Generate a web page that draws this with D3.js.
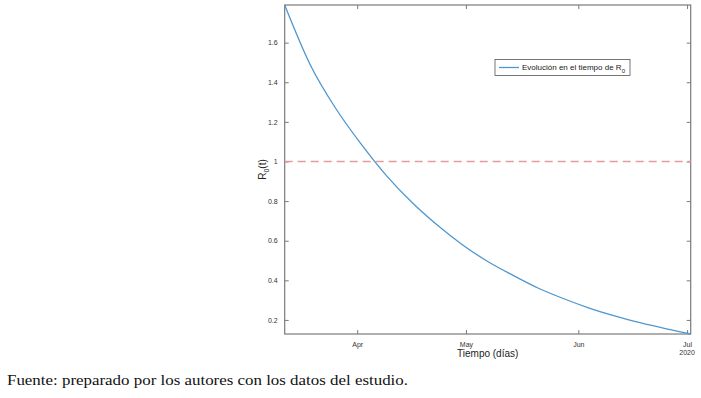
<!DOCTYPE html>
<html>
<head>
<meta charset="utf-8">
<script src="https://cdn.jsdelivr.net/npm/d3@7"></script>
<style>
  body { margin: 0; background: #fff; }
  svg { display: block; }
  .tick text { font-family: 'Liberation Sans', Arial, sans-serif; font-size: 7px; fill: #333; }
</style>
</head>
<body>
<svg id="chart"></svg>
<script>
let svgWidth = 701
let svgHeight = 398

// values
let dates = ['2020-03-12', '2020-03-19', '2020-03-26', '2020-04-02', '2020-04-09', '2020-04-16',
  '2020-04-23', '2020-04-30', '2020-05-07', '2020-05-14', '2020-05-21', '2020-05-28',
  '2020-06-04', '2020-06-11', '2020-06-18', '2020-06-25', '2020-07-02']
let r0 = [1.79, 1.49, 1.27, 1.09, 0.93, 0.795, 0.68, 0.58, 0.495, 0.425, 0.36, 0.307,
  0.26, 0.22, 0.186, 0.156, 0.129]
let threshold = 1
let yTicks = [0.2, 0.4, 0.6, 0.8, 1, 1.2, 1.4, 1.6]
let xTickDates = ['2020-04-01', '2020-05-01', '2020-06-01', '2020-07-01']
let xTickNames = ['Apr', 'May', 'Jun', 'Jul']

let parse = d3.timeParse('%Y-%m-%d')
let data = dates.map(function(d, i) { return { t: parse(d), v: r0[i] } })

let plotLeft = 284.7, plotRight = 690.7, plotTop = 5, plotBottom = 334

let svg = d3.select('#chart').attr('width', svgWidth).attr('height', svgHeight)

let xScale = d3.scaleTime().domain(d3.extent(data, d => d.t)).range([plotLeft, plotRight])
let yScale = d3.scaleLinear().domain([d3.min(r0), d3.max(r0)]).range([plotBottom, plotTop])

let xTicks = xTickDates.map(parse)
let axisColor = '#7a7a7a'

// axes, ticks pointing inward like matlab
let yAxis = d3.axisLeft(yScale).tickValues(yTicks).tickSize(-4).tickPadding(7)
  .tickFormat(d3.format('~g'))
let gy = svg.append('g').attr('transform', 'translate(' + plotLeft + ',0)').call(yAxis)
let yRight = d3.axisRight(yScale).tickValues(yTicks).tickSize(-4).tickFormat('')
let gyr = svg.append('g').attr('transform', 'translate(' + plotRight + ',0)').call(yRight)

let xAxis = d3.axisBottom(xScale).tickValues(xTicks).tickSize(-4).tickPadding(8)
  .tickFormat(function(d, i) { return xTickNames[i] })
let gx = svg.append('g').attr('transform', 'translate(0,' + plotBottom + ')').call(xAxis)
let xTop = d3.axisTop(xScale).tickValues(xTicks).tickSize(-4).tickFormat('')
let gxt = svg.append('g').attr('transform', 'translate(0,' + plotTop + ')').call(xTop)

;[gy, gyr, gx, gxt].forEach(function(g) {
  g.select('.domain').remove()
  g.selectAll('.tick line').attr('stroke', axisColor)
})

svg.append('rect')
  .attr('x', plotLeft).attr('y', plotTop)
  .attr('width', plotRight - plotLeft).attr('height', plotBottom - plotTop)
  .attr('fill', 'none').attr('stroke', axisColor).attr('stroke-width', 1.2)

svg.append('text')
  .attr('x', xScale(xTicks[3])).attr('y', 355)
  .attr('text-anchor', 'middle')
  .style('font-family', "'Liberation Sans', Arial, sans-serif").style('font-size', '7px').attr('fill', '#333')
  .text('2020')

// threshold line
svg.append('line')
  .attr('x1', plotLeft).attr('x2', plotRight)
  .attr('y1', yScale(threshold)).attr('y2', yScale(threshold))
  .attr('stroke', '#e59a9a').attr('stroke-width', 1.3).attr('stroke-dasharray', '8,5')

// R0 curve
let line = d3.line().x(d => xScale(d.t)).y(d => yScale(d.v)).curve(d3.curveMonotoneX)
svg.append('path')
  .datum(data)
  .attr('d', line)
  .attr('fill', 'none').attr('stroke', '#4f97cf').attr('stroke-width', 1.3)

// axis titles
svg.append('text')
  .attr('x', (plotLeft + plotRight) / 2).attr('y', 357)
  .attr('text-anchor', 'middle')
  .style('font-family', "'Liberation Sans', Arial, sans-serif").style('font-size', '10px').attr('fill', '#222')
  .text('Tiempo (días)')

let ylab = svg.append('text')
  .attr('transform', 'translate(266,' + ((plotTop + plotBottom) / 2) + ') rotate(-90)')
  .attr('text-anchor', 'middle')
  .style('font-family', "'Liberation Sans', Arial, sans-serif").style('font-size', '10px').attr('fill', '#222')
ylab.append('tspan').text('R')
ylab.append('tspan').attr('dy', 3).style('font-size', '7px').text('0')
ylab.append('tspan').attr('dy', -3).text('(t)')

// legend
let legend = svg.append('g')
legend.append('rect')
  .attr('x', 495).attr('y', 59.5).attr('width', 135).attr('height', 16)
  .attr('fill', '#fff').attr('stroke', '#555').attr('stroke-width', 0.8)
legend.append('line')
  .attr('x1', 499).attr('x2', 519).attr('y1', 67.5).attr('y2', 67.5)
  .attr('stroke', '#4f97cf').attr('stroke-width', 1.3)
let ltext = legend.append('text')
  .attr('x', 522).attr('y', 70)
  .style('font-family', "'Liberation Sans', Arial, sans-serif").style('font-size', '8px').attr('fill', '#222')
ltext.append('tspan').text('Evolución en el tiempo de R')
ltext.append('tspan').attr('dy', 2.5).style('font-size', '6px').text('0')

// source note
svg.append('text')
  .attr('x', 7).attr('y', 385)
  .attr('textLength', 401).attr('lengthAdjust', 'spacingAndGlyphs')
  .style('font-family', "'Liberation Serif', 'Times New Roman', serif").style('font-size', '15.5px').attr('fill', '#111')
  .text('Fuente: preparado por los autores con los datos del estudio.')
</script>
</body>
</html>
